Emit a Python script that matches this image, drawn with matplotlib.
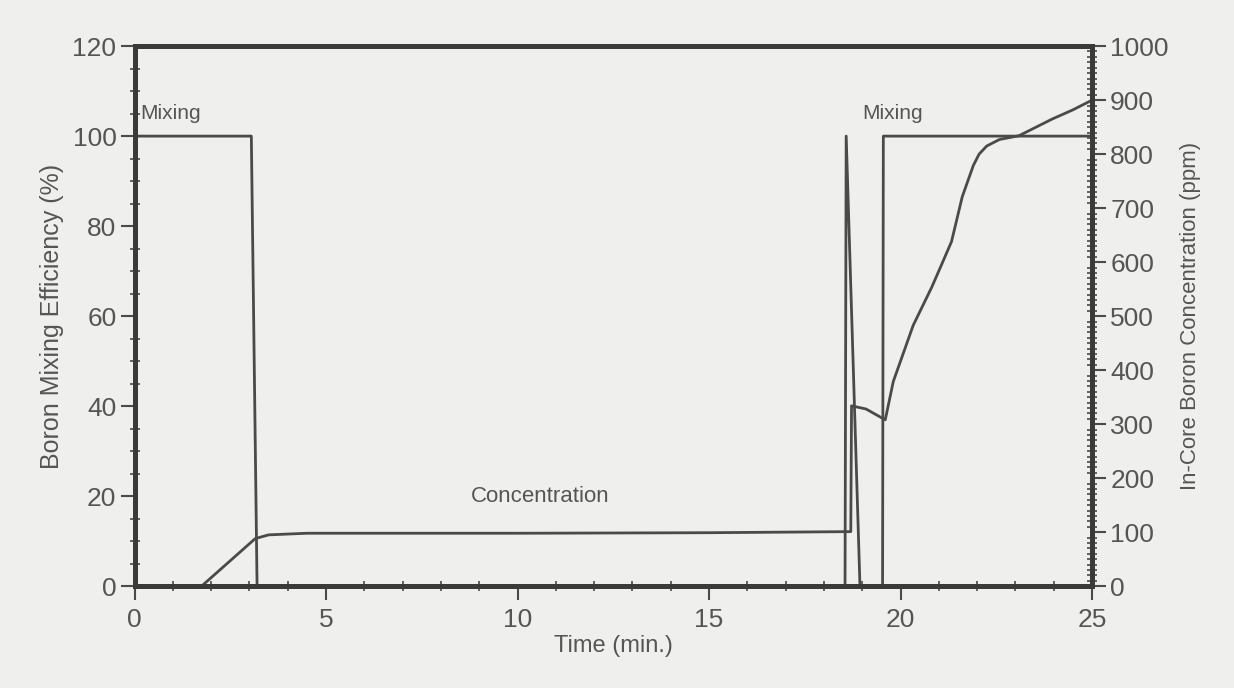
import numpy as np
import matplotlib.pyplot as plt
from matplotlib.ticker import MultipleLocator

plt.rcParams['font.family'] = ['Liberation Sans', 'DejaVu Sans']

# boron mixing efficiency (%), left axis
t_mix = [0, 3.05, 3.2, 18.55, 18.58, 18.94, 19.53, 19.55, 25]
mixing = [100, 100, 0, 0, 100, 0, 0, 100, 100]

# in-core boron concentration (ppm), right axis
t_conc = [0, 1.75, 3.15, 3.5, 4.5, 10, 15, 18.7, 18.72, 19.1, 19.6,
          19.81, 20.1, 20.33, 20.81, 21.05, 21.33, 21.61, 21.9, 22.05,
          22.25, 22.58, 23.09, 23.96, 24.5, 25]
conc = [0, 0, 88, 95, 98, 98, 99, 101, 334, 328, 308,
        379, 437, 483, 553, 592, 638, 721, 779, 800,
        815, 827, 834, 865, 882, 900]

bg = '#efefed'
ink = '#4a4a4a'
txt = '#555555'

fig = plt.figure(figsize=(12.34, 6.88), dpi=100, facecolor=bg)
ax = fig.add_axes([0.109, 0.148, 0.776, 0.785], facecolor=bg)
ax2 = ax.twinx()

ax.plot(t_mix, mixing, color=ink, lw=2)
ax2.plot(t_conc, conc, color=ink, lw=2)

ax.set_xlim(0, 25)
ax.set_ylim(0, 120)
ax2.set_ylim(0, 1000)

ax.xaxis.set_major_locator(MultipleLocator(5))
ax.xaxis.set_minor_locator(MultipleLocator(1))
ax.yaxis.set_major_locator(MultipleLocator(20))
ax.yaxis.set_minor_locator(MultipleLocator(5))
ax2.yaxis.set_major_locator(MultipleLocator(100))
ax2.yaxis.set_minor_locator(MultipleLocator(10))

for a in (ax, ax2):
    for s in a.spines.values():
        s.set_linewidth(3.5)
        s.set_color('#3a3a3a')
    a.tick_params(which='major', direction='out', length=10, width=1.5,
                  color=ink, labelcolor=txt, labelsize=19)
    a.tick_params(which='minor', direction='inout', length=7, width=1.2,
                  color=ink)
ax.tick_params(axis='x', pad=6)
ax.tick_params(axis='y', pad=3)
ax2.tick_params(axis='y', pad=3)

ax.set_xlabel('Time (min.)', fontsize=17, color=txt, labelpad=2)
ax.set_ylabel('Boron Mixing Efficiency (%)', fontsize=18, color=txt,
              labelpad=6)
ax2.set_ylabel('In-Core Boron Concentration (ppm)', fontsize=16,
               color=txt, rotation=90, labelpad=8)

ax.text(0.15, 103, 'Mixing', fontsize=15, color=txt, va='bottom')
ax.text(19.0, 103, 'Mixing', fontsize=15, color=txt, va='bottom')
ax.text(10.6, 20, 'Concentration', fontsize=16, color=txt,
        ha='center', va='center')

fig.savefig('out.png', dpi=100, facecolor=bg)
